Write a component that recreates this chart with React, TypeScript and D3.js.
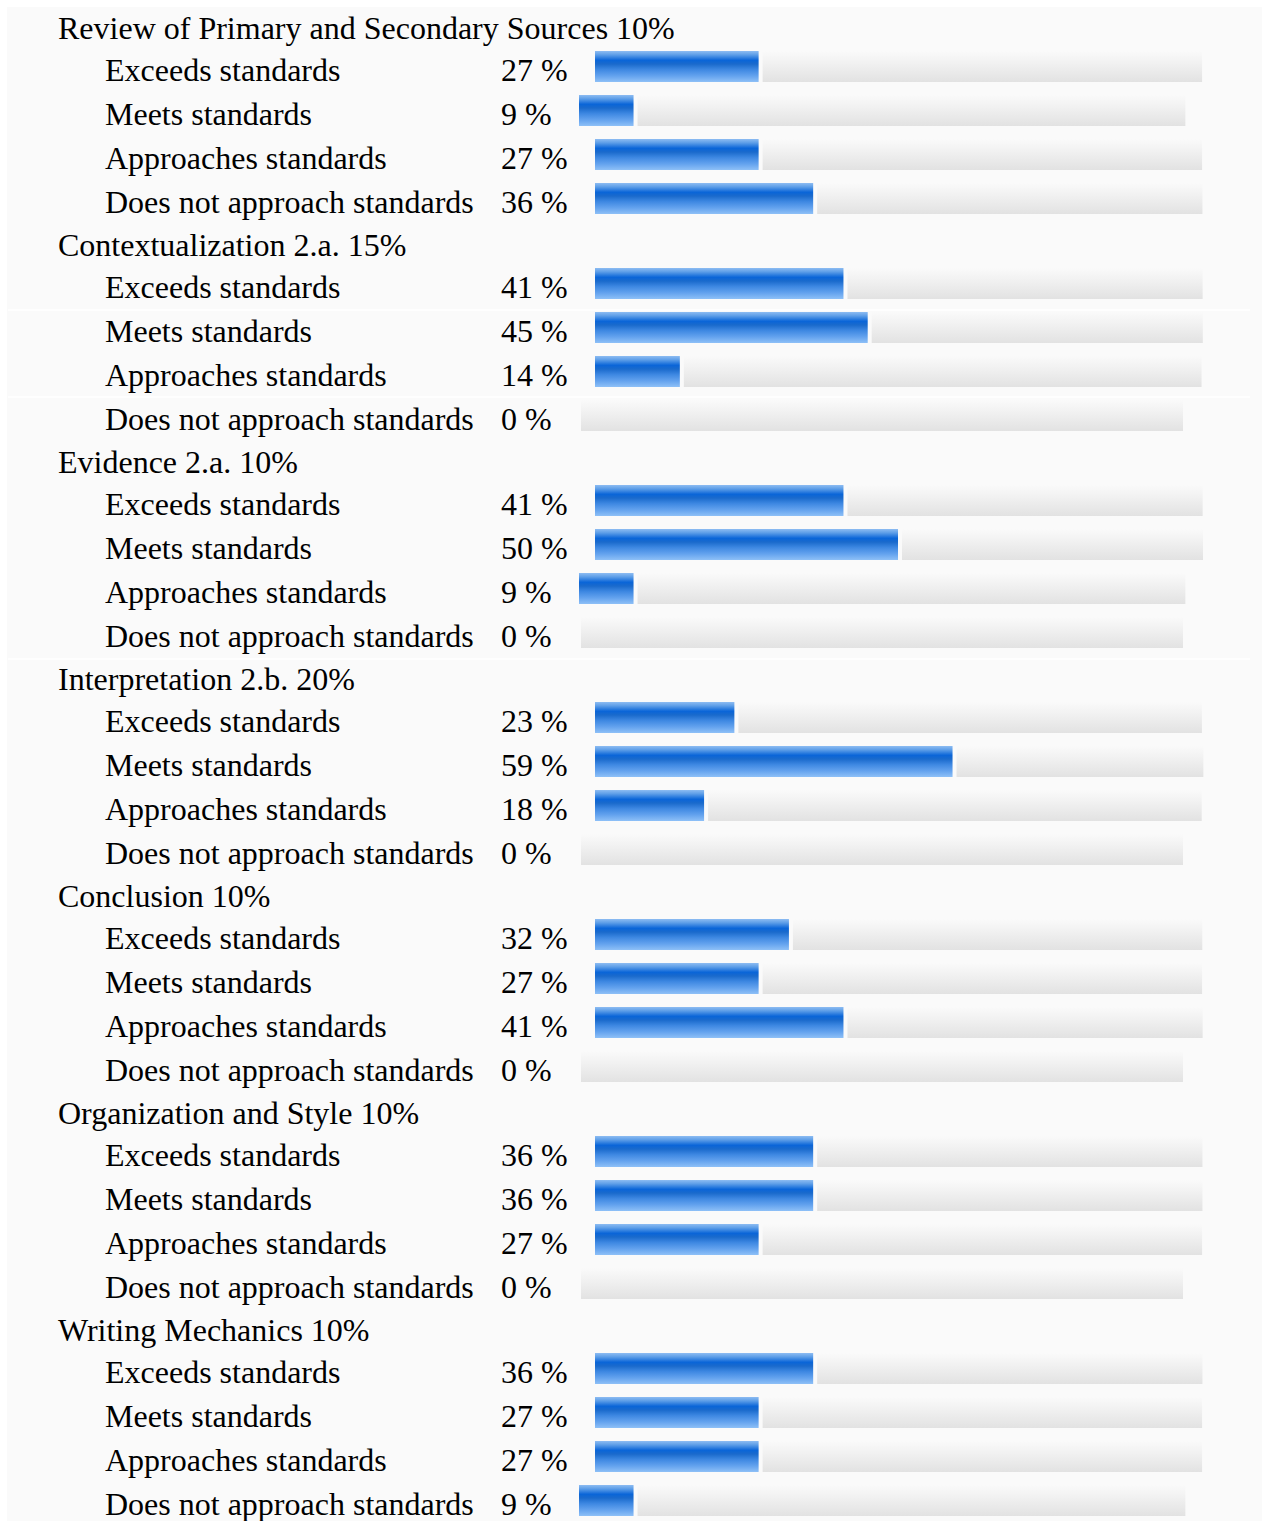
import React from "react";
import * as d3 from "d3";

const categories = [
  "Review of Primary and Secondary Sources 10%",
  "Contextualization 2.a. 15%",
  "Evidence 2.a. 10%",
  "Interpretation 2.b. 20%",
  "Conclusion 10%",
  "Organization and Style 10%",
  "Writing Mechanics 10%",
];

const levels = [
  "Exceeds standards",
  "Meets standards",
  "Approaches standards",
  "Does not approach standards",
];

const exceedsValues = [27, 41, 41, 23, 32, 36, 36];
const meetsValues = [9, 45, 50, 59, 27, 36, 27];
const approachesValues = [27, 14, 9, 18, 41, 27, 27];
const doesNotValues = [36, 0, 0, 0, 0, 0, 9];

const seriesValues = [exceedsValues, meetsValues, approachesValues, doesNotValues];

const W = 1262;
const H = 1521;
const FONT = "Liberation Serif, Tinos, Times New Roman, Times, DejaVu Serif, serif";
const FS = 32;
const TEXT_DY = 1.5;

export default function App() {
  const groupY = d3
    .scaleLinear()
    .domain([0, categories.length - 1])
    .range([37, 37 + 217 * (categories.length - 1)]);
  const rowOffset = d3.scaleOrdinal<number, number>().domain([0, 1, 2, 3]).range([42, 86, 130, 174]);
  const barScale = d3.scaleLinear().domain([0, 100]).range([0, 606]);
  const trackScale = d3.scaleLinear().domain([0, 100]).range([602, 0]);

  const rows: any[] = [];
  categories.forEach((cat, gi) => {
    levels.forEach((lev, li) => {
      const v = seriesValues[li][gi];
      const digits = String(v).length;
      const baseline = groupY(gi) + rowOffset(li);
      const x0 = 579 + 16 * (digits - 1);
      const bw = barScale(v);
      const gap = v > 0 ? 4 : 2;
      rows.push({ key: `${gi}-${li}`, lev, v, baseline, x0, bw, tx: x0 + bw + gap, tw: trackScale(v) });
    });
  });

  const textStyle = { fontFamily: FONT, fontSize: FS } as React.CSSProperties;

  return (
    <svg
      width={W}
      height={H}
      style={{ position: "absolute", left: 0, top: 0, display: "block" }}
    >
      <defs>
        <linearGradient id="blueBar" x1="0" y1="0" x2="0" y2="1">
          <stop offset="0" stopColor="#8dbcf2" />
          <stop offset="0.12" stopColor="#5f9fe8" />
          <stop offset="0.3" stopColor="#0a65d8" />
          <stop offset="0.42" stopColor="#1a6acc" />
          <stop offset="0.6" stopColor="#3e88e2" />
          <stop offset="0.8" stopColor="#63a2ee" />
          <stop offset="1" stopColor="#8ec0f7" />
        </linearGradient>
        <linearGradient id="track" x1="0" y1="0" x2="0" y2="1">
          <stop offset="0" stopColor="#fafafa" />
          <stop offset="0.35" stopColor="#f2f2f2" />
          <stop offset="1" stopColor="#e2e2e2" />
        </linearGradient>
      </defs>
      <rect x={0} y={0} width={W} height={H} fill="#ffffff" />
      <rect x={7} y={7} width={W - 7} height={H - 7} fill="#fafafa" />
      {[310, 397, 659].map((y) => (
        <line key={y} x1={8} x2={1250} y1={y} y2={y} stroke="#ffffff" strokeWidth={1.5} />
      ))}
      {categories.map((c, gi) => (
        <text key={c} x={58} y={groupY(gi) + TEXT_DY} style={textStyle} fill="#000">
          {c}
        </text>
      ))}
      {rows.map((r) => (
        <g key={r.key}>
          <text x={105} y={r.baseline + TEXT_DY} style={textStyle} fill="#000">
            {r.lev}
          </text>
          <text x={501} y={r.baseline + TEXT_DY} style={textStyle} fill="#000">
            {`${r.v} %`}
          </text>
          {r.bw > 0 && (
            <rect x={r.x0} y={r.baseline - 28} width={r.bw} height={31} fill="url(#blueBar)" />
          )}
          <rect x={r.tx} y={r.baseline - 28} width={r.tw} height={31} fill="url(#track)" />
        </g>
      ))}
    </svg>
  );
}
